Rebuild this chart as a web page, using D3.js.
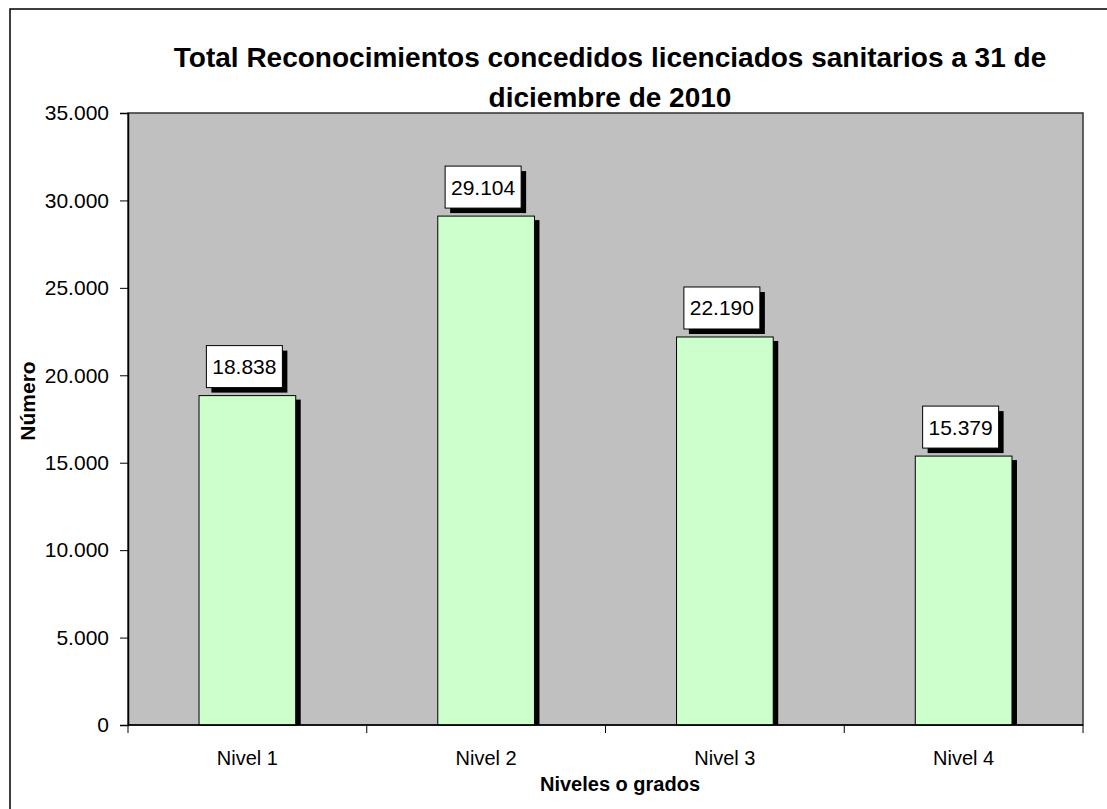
<!DOCTYPE html>
<html>
<head>
<meta charset="utf-8">
<script src="https://cdn.jsdelivr.net/npm/d3@7"></script>
<style>
  html, body { margin: 0; padding: 0; background: #fff; }
  svg { display: block; font-family: Arial, "Liberation Sans", sans-serif; }
</style>
</head>
<body>
<svg id="chart" width="1107" height="809"></svg>
<script>
// Reconocimientos concedidos por nivel
const categories = ["Nivel 1", "Nivel 2", "Nivel 3", "Nivel 4"];
const values = [18838, 29104, 22190, 15379];
const yTicks = [0, 5000, 10000, 15000, 20000, 25000, 30000, 35000];
const titleLines = ["Total Reconocimientos concedidos licenciados sanitarios a 31 de", "diciembre de 2010"];

const svg = d3.select("#chart");
const plot = { left: 128, top: 113, right: 1083, bottom: 725 };

const fmt = v => d3.format(",")(v).replace(/,/g, ".");

// outer chart frame (only left and top edges fall inside the page)
svg.append("rect")
  .attr("x", 10).attr("y", 9).attr("width", 1200).attr("height", 900)
  .attr("fill", "none").attr("stroke", "#000").attr("stroke-width", 1.5);

const x = d3.scaleBand().domain(categories).range([plot.left, plot.right]).paddingInner(0).paddingOuter(0);
const y = d3.scaleLinear().domain([0, 35000]).range([plot.bottom, plot.top]);

// plot background
svg.append("rect")
  .attr("x", plot.left).attr("y", plot.top)
  .attr("width", plot.right - plot.left).attr("height", plot.bottom - plot.top)
  .attr("fill", "#C0C0C0").attr("stroke", "#333").attr("stroke-width", 1.5);

// title
svg.append("text")
  .attr("x", 610).attr("y", 67)
  .attr("text-anchor", "middle")
  .attr("font-size", 28).attr("font-weight", "bold")
  .selectAll("tspan").data(titleLines).join("tspan")
  .attr("x", 610).attr("dy", (d, i) => i === 0 ? 0 : 40)
  .text(d => d);

// bars
const barW = x.bandwidth() * 0.405;
const sh = 5;
const g = svg.append("g");
categories.forEach((c, i) => {
  const cx = x(c) + x.bandwidth() / 2;
  const bx = cx - barW / 2;
  const by = y(values[i]);
  g.append("rect").attr("x", bx + sh).attr("y", by + 4)
    .attr("width", barW).attr("height", plot.bottom - by - 4).attr("fill", "#000");
  g.append("rect").attr("x", bx).attr("y", by)
    .attr("width", barW).attr("height", plot.bottom - by)
    .attr("fill", "#CCFFCC").attr("stroke", "#000").attr("stroke-width", 1);

  // value label box
  const lw = 76, lh = 42;
  const lx = cx - 3 - lw / 2, ly = by - 8 - lh;
  g.append("rect").attr("x", lx + sh).attr("y", ly + sh)
    .attr("width", lw).attr("height", lh).attr("fill", "#000");
  g.append("rect").attr("x", lx).attr("y", ly)
    .attr("width", lw).attr("height", lh)
    .attr("fill", "#fff").attr("stroke", "#000").attr("stroke-width", 1);
  g.append("text").attr("x", lx + lw / 2).attr("y", ly + lh / 2 + 7.5)
    .attr("text-anchor", "middle").attr("font-size", 21)
    .text(fmt(values[i]));
});

// y axis
const yAxis = svg.append("g").attr("transform", `translate(${plot.left},0)`)
  .call(d3.axisLeft(y).tickValues(yTicks).tickSize(8).tickPadding(11).tickFormat(fmt));
yAxis.select(".domain").attr("stroke", "#000").attr("stroke-width", 1.5);
yAxis.selectAll(".tick line").attr("stroke", "#000");
yAxis.selectAll(".tick text").attr("font-size", 21).attr("fill", "#000")
  .attr("font-family", "Arial, 'Liberation Sans', sans-serif");

// x axis
const xTicks = d3.range(categories.length + 1).map(i => plot.left + i * x.bandwidth());
const xa = svg.append("g");
xa.append("line").attr("x1", plot.left).attr("x2", plot.right)
  .attr("y1", plot.bottom).attr("y2", plot.bottom).attr("stroke", "#000").attr("stroke-width", 1.5);
xa.selectAll("line.tk").data(xTicks).join("line").attr("class", "tk")
  .attr("x1", d => d).attr("x2", d => d)
  .attr("y1", plot.bottom).attr("y2", plot.bottom + 8).attr("stroke", "#000");
xa.selectAll("text").data(categories).join("text")
  .attr("x", d => x(d) + x.bandwidth() / 2).attr("y", 765)
  .attr("text-anchor", "middle").attr("font-size", 20).text(d => d);

// axis titles
svg.append("text").attr("x", 620).attr("y", 791)
  .attr("text-anchor", "middle").attr("font-size", 20).attr("font-weight", "bold")
  .text("Niveles o grados");
svg.append("text").attr("transform", "translate(35,401) rotate(-90)")
  .attr("text-anchor", "middle").attr("font-size", 21).attr("font-weight", "bold")
  .text("Número");
</script>
</body>
</html>
